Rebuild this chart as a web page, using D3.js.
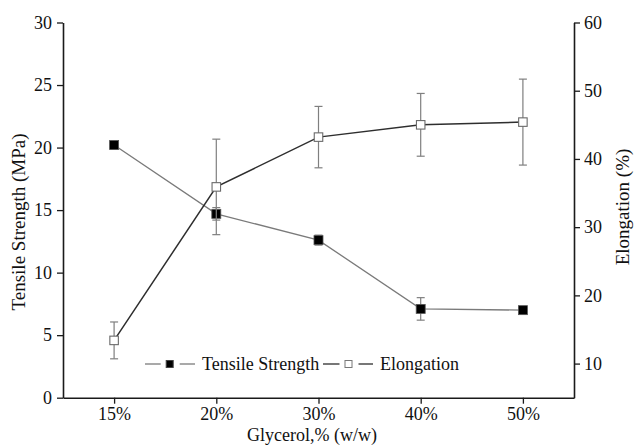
<!DOCTYPE html>
<html>
<head>
<meta charset="utf-8">
<script src="https://cdn.jsdelivr.net/npm/d3@7"></script>
<style>
  body { margin: 0; background: #fff; }
  text { font-family: "Liberation Serif", "Times New Roman", serif; fill: #111; }
</style>
</head>
<body>
<script>
var Width = 635;
var Height = 446;

// data
var categories = ["15%", "20%", "30%", "40%", "50%"];
var tensile    = [20.2, 14.7, 12.6, 7.1, 7.0];     // MPa
var tensileErr = [0.3, 0.5, 0.4, 0.9, 0.2];
var elong      = [13.4, 35.9, 43.2, 45.0, 45.4];   // %
var elongErr   = [2.7, 7.0, 4.5, 4.6, 6.3];
var leftTicks  = [0, 5, 10, 15, 20, 25, 30];
var rightTicks = [10, 20, 30, 40, 50, 60];

var Left = 63, Right = 574, Top = 22.5, Bottom = 397.7;

function main () {
  var svg = d3.select("body").append("svg")
    .attr("width", Width)
    .attr("height", Height);

  var xScale = d3.scalePoint()
    .domain(categories)
    .range([Left, Right])
    .padding(0.5);
  var yLeft = d3.scaleLinear().domain([0, 30]).range([Bottom, Top]);
  var yRight = d3.scaleLinear().domain([5, 60]).range([Bottom, Top]);

  makeAxes(svg, xScale, yLeft, yRight);

  var tsData = categories.map(function(c, i) { return {c: c, v: tensile[i], e: tensileErr[i]}; });
  var elData = categories.map(function(c, i) { return {c: c, v: elong[i], e: elongErr[i]}; });

  drawSeries(svg, tsData, xScale, yLeft, "#7a7a7a", 1.3, true);
  drawSeries(svg, elData, xScale, yRight, "#2e2e2e", 1.5, false);

  makeLegend(svg);
}

function drawSeries (svg, data, xScale, yScale, lineColor, lineWidth, filled) {
  var line = d3.line()
    .x(function(d) { return xScale(d.c); })
    .y(function(d) { return yScale(d.v); });

  svg.append("path")
    .datum(data)
    .attr("d", line)
    .attr("fill", "none")
    .attr("stroke", lineColor)
    .attr("stroke-width", lineWidth);

  var cap = 4;
  var g = svg.append("g").attr("stroke", "#7f7f7f").attr("stroke-width", 1.2);
  data.forEach(function(d) {
    var x = xScale(d.c), y1 = yScale(d.v + d.e), y2 = yScale(d.v - d.e);
    g.append("line").attr("x1", x).attr("x2", x).attr("y1", y1).attr("y2", y2);
    g.append("line").attr("x1", x - cap).attr("x2", x + cap).attr("y1", y1).attr("y2", y1);
    g.append("line").attr("x1", x - cap).attr("x2", x + cap).attr("y1", y2).attr("y2", y2);
  });

  var s = filled ? 9 : 8.5;
  svg.selectAll(null)
    .data(data)
    .enter()
    .append("rect")
    .attr("x", function(d) { return xScale(d.c) - s / 2; })
    .attr("y", function(d) { return yScale(d.v) - s / 2; })
    .attr("width", s)
    .attr("height", s)
    .attr("fill", filled ? "#000" : "#fff")
    .attr("stroke", filled ? "#555" : "#6a6a6a")
    .attr("stroke-width", filled ? 0.8 : 1.1);
}

function makeAxes (svg, xScale, yLeft, yRight) {
  var xAxis = d3.axisBottom(xScale).tickSize(6).tickSizeOuter(0).tickPadding(4);
  var gx = svg.append("g")
    .attr("transform", "translate(0," + Bottom + ")")
    .call(xAxis);

  var gl = svg.append("g")
    .attr("transform", "translate(" + Left + ",0)")
    .call(d3.axisLeft(yLeft).tickValues(leftTicks).tickSize(6).tickSizeOuter(0).tickPadding(5));

  var gr = svg.append("g")
    .attr("transform", "translate(" + Right + ",0)")
    .call(d3.axisRight(yRight).tickValues(rightTicks).tickSize(6).tickSizeOuter(0).tickPadding(4));

  [gx, gl, gr].forEach(function(g) {
    g.select(".domain").attr("stroke", "#1a1a1a").attr("stroke-width", 1.6);
    g.selectAll(".tick line").attr("stroke", "#1a1a1a").attr("stroke-width", 1.3);
    g.selectAll(".tick text")
      .style("font-family", "Liberation Serif")
      .style("font-size", "18px")
      .attr("fill", "#111");
  });

  svg.append("text")
    .attr("x", 312)
    .attr("y", 441)
    .attr("text-anchor", "middle")
    .style("font-size", "18px")
    .text("Glycerol,% (w/w)");

  svg.append("text")
    .attr("transform", "translate(25,222) rotate(-90)")
    .attr("text-anchor", "middle")
    .style("font-size", "19px")
    .text("Tensile Strength (MPa)");

  svg.append("text")
    .attr("transform", "translate(629,207) rotate(-90)")
    .attr("text-anchor", "middle")
    .style("font-size", "19px")
    .text("Elongation (%)");
}

function makeLegend (svg) {
  var y = 364;
  var items = [
    {x0: 145, x1: 195, sq: 169.7, size: 7, fill: "#000", stroke: "#444", line: "#7a7a7a", tx: 202, label: "Tensile Strength"},
    {x0: 323, x1: 373, sq: 348.5, size: 7, fill: "#fff", stroke: "#777", line: "#2e2e2e", tx: 380, label: "Elongation"}
  ];
  items.forEach(function(d) {
    svg.append("line")
      .attr("x1", d.x0).attr("x2", d.sq - 9).attr("y1", y).attr("y2", y)
      .attr("stroke", d.line).attr("stroke-width", 1.3);
    svg.append("line")
      .attr("x1", d.sq + 10).attr("x2", d.x1).attr("y1", y).attr("y2", y)
      .attr("stroke", d.line).attr("stroke-width", 1.3);
    svg.append("rect")
      .attr("x", d.sq - d.size / 2).attr("y", y - d.size / 2)
      .attr("width", d.size).attr("height", d.size)
      .attr("fill", d.fill).attr("stroke", d.stroke).attr("stroke-width", 1);
    svg.append("text")
      .attr("x", d.tx).attr("y", y + 6)
      .style("font-size", "18px")
      .text(d.label);
  });
}

main();
</script>
</body>
</html>
